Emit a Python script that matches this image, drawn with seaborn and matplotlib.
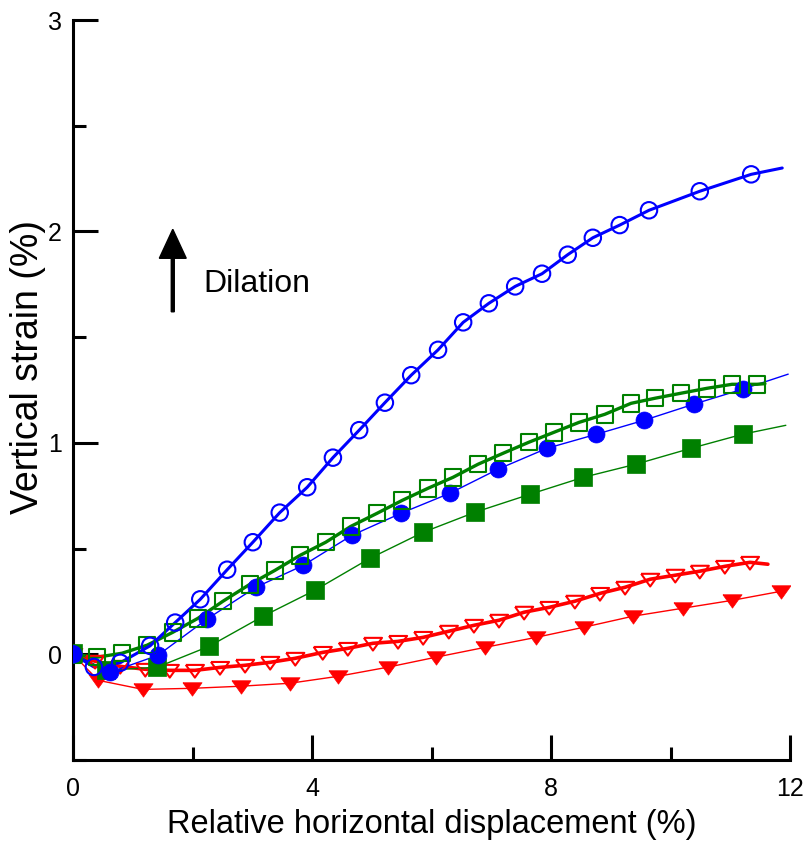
import numpy as np
import pandas as pd
import matplotlib
matplotlib.use("Agg")
import matplotlib.pyplot as plt
import seaborn as sns
from matplotlib.ticker import MultipleLocator

# ---------------- data ----------------
# Blue, open circles (thick line)
blue_open_x = [0.0, 0.35, 0.79, 1.29, 1.71, 2.13, 2.58, 3.01, 3.46, 3.92, 4.35, 4.79, 5.22, 5.66,
               6.11, 6.53, 6.96, 7.40, 7.85, 8.28, 8.70, 9.15, 9.64, 10.49, 11.35, 11.87]
blue_open_y = [0.0, -0.06, -0.04, 0.04, 0.15, 0.26, 0.40, 0.53, 0.67, 0.79, 0.93, 1.06, 1.19, 1.32,
               1.44, 1.57, 1.66, 1.74, 1.80, 1.89, 1.97, 2.03, 2.10, 2.19, 2.27, 2.30]

# Blue, filled circles (thin line)
blue_fill_x = [0.0, 0.62, 1.42, 2.24, 3.06, 3.85, 4.67, 5.49, 6.31, 7.11, 7.93, 8.75, 9.56, 10.39, 11.21, 11.97]
blue_fill_y = [0.0, -0.085, -0.005, 0.166, 0.317, 0.42, 0.563, 0.667, 0.762, 0.875, 0.974, 1.04, 1.107,
               1.183, 1.254, 1.325]

# Green, open squares (thick line)
green_open_x = [0.0, 0.40, 0.82, 1.24, 1.67, 2.09, 2.51, 2.96, 3.38, 3.80, 4.23, 4.65, 5.09, 5.51, 5.94,
                6.36, 6.78, 7.20, 7.63, 8.05, 8.47, 8.90, 9.34, 9.74, 10.18, 10.61, 11.03, 11.45, 11.58]
green_open_y = [0.0, -0.014, 0.005, 0.043, 0.104, 0.170, 0.251, 0.331, 0.397, 0.468, 0.530, 0.605, 0.667,
                0.728, 0.785, 0.837, 0.899, 0.951, 1.003, 1.050, 1.097, 1.135, 1.187, 1.211, 1.235, 1.258,
                1.277, 1.277, 1.28]

# Green, filled squares (thin line)
green_fill_x = [0.0, 0.55, 1.41, 2.28, 3.18, 4.05, 4.97, 5.86, 6.73, 7.65, 8.54, 9.42, 10.34, 11.21, 11.93]
green_fill_y = [0.005, -0.076, -0.061, 0.038, 0.180, 0.303, 0.454, 0.577, 0.672, 0.757, 0.837, 0.899,
                0.974, 1.041, 1.083]

# Red, open down-triangles (thick line)
red_open_x = [0.0, 0.37, 0.79, 1.21, 1.62, 2.04, 2.46, 2.88, 3.30, 3.72, 4.18, 4.60, 5.02, 5.44, 5.86,
              6.29, 6.71, 7.13, 7.55, 7.97, 8.40, 8.82, 9.24, 9.66, 10.08, 10.49, 10.91, 11.33, 11.63]
red_open_y = [0.0, -0.033, -0.057, -0.071, -0.076, -0.076, -0.062, -0.052, -0.038, -0.019, 0.009, 0.028,
              0.052, 0.061, 0.080, 0.109, 0.137, 0.161, 0.199, 0.222, 0.251, 0.288, 0.317, 0.355, 0.374,
              0.393, 0.416, 0.435, 0.426]

# Red, filled down-triangles (thin line)
red_fill_x = [0.0, 0.42, 1.17, 1.99, 2.81, 3.63, 4.44, 5.27, 6.07, 6.90, 7.75, 8.55, 9.37, 10.21, 11.03, 11.85]
red_fill_y = [0.0, -0.123, -0.166, -0.161, -0.151, -0.137, -0.104, -0.061, -0.014, 0.033, 0.080, 0.128,
              0.180, 0.218, 0.255, 0.298]

x_ticks = [0, 4, 8, 12]
y_ticks = [0, 1, 2, 3]
x_label = "Relative horizontal displacement (%)"
y_label = "Vertical strain (%)"
annot_text = "Dilation"

# ---------------- styling ----------------
sns.set_style("white")
plt.rcParams["font.family"] = ["Liberation Sans", "DejaVu Sans"]

BLUE, GREEN, RED = "#0000FF", "#008000", "#FF0000"
tri_down = [(-1, 0.6), (1, 0.6), (0, -0.8), (-1, 0.6)]

fig = plt.figure(figsize=(8.06, 8.41), dpi=100)
ax = fig.add_axes([73 / 806, 81 / 841, 717 / 806, 740 / 841])


def draw(xs, ys, color, lw, marker, filled, size, mark_last=True):
    df = pd.DataFrame({"x": xs, "y": ys})
    sns.lineplot(data=df, x="x", y="y", ax=ax, color=color, lw=lw, sort=False,
                 estimator=None, zorder=3)
    m = df if mark_last else df.iloc[:-1]
    if filled:
        sns.scatterplot(data=m, x="x", y="y", ax=ax, color=color, marker=marker, s=size,
                        edgecolor=color, linewidth=0.5, zorder=4)
    else:
        sns.scatterplot(data=m, x="x", y="y", ax=ax, color=color, marker=marker, s=size,
                        facecolor="none", edgecolor=color, linewidth=1.5, zorder=4)


draw(red_fill_x, red_fill_y, RED, 1.0, tri_down, True, 190, mark_last=True)
draw(red_open_x, red_open_y, RED, 2.6, tri_down, False, 170, mark_last=False)
draw(green_fill_x, green_fill_y, GREEN, 1.0, "s", True, 150, mark_last=False)
draw(blue_fill_x, blue_fill_y, BLUE, 1.0, "o", True, 150, mark_last=False)
draw(green_open_x, green_open_y, GREEN, 2.4, "s", False, 140, mark_last=False)
draw(blue_open_x, blue_open_y, BLUE, 2.2, "o", False, 140, mark_last=False)

ax.set_xlim(0, 12)
ax.set_ylim(-0.5, 3)
ax.set_xticks(x_ticks)
ax.set_yticks(y_ticks)
ax.xaxis.set_minor_locator(MultipleLocator(2))
ax.yaxis.set_minor_locator(MultipleLocator(0.5))
ax.tick_params(which="major", direction="in", length=18, width=2.2, labelsize=18, pad=8,
               color="black", labelcolor="black")
ax.tick_params(axis="x", which="major", pad=12)
ax.tick_params(which="minor", direction="in", length=9.5, width=2.2, color="black")
ax.tick_params(axis="both", which="both", top=False, right=False, bottom=True, left=True)

for side in ["top", "right"]:
    ax.spines[side].set_visible(False)
for side in ["left", "bottom"]:
    ax.spines[side].set_linewidth(2.2)
    ax.spines[side].set_color("black")

ax.set_xlabel(x_label, fontsize=23.5, labelpad=6, color="black")
ax.set_ylabel(y_label, fontsize=27, color="black", va="center")
ax.yaxis.set_label_coords(-0.063, 0.531)

ax.arrow(1.67, 1.62, 0, 0.39, width=0.05, head_width=0.45, head_length=0.137,
         length_includes_head=True, color="black", zorder=5)
ax.text(2.19, 1.712, annot_text, fontsize=23, va="baseline", ha="left", color="black")

fig.savefig("out.png", dpi=100)
